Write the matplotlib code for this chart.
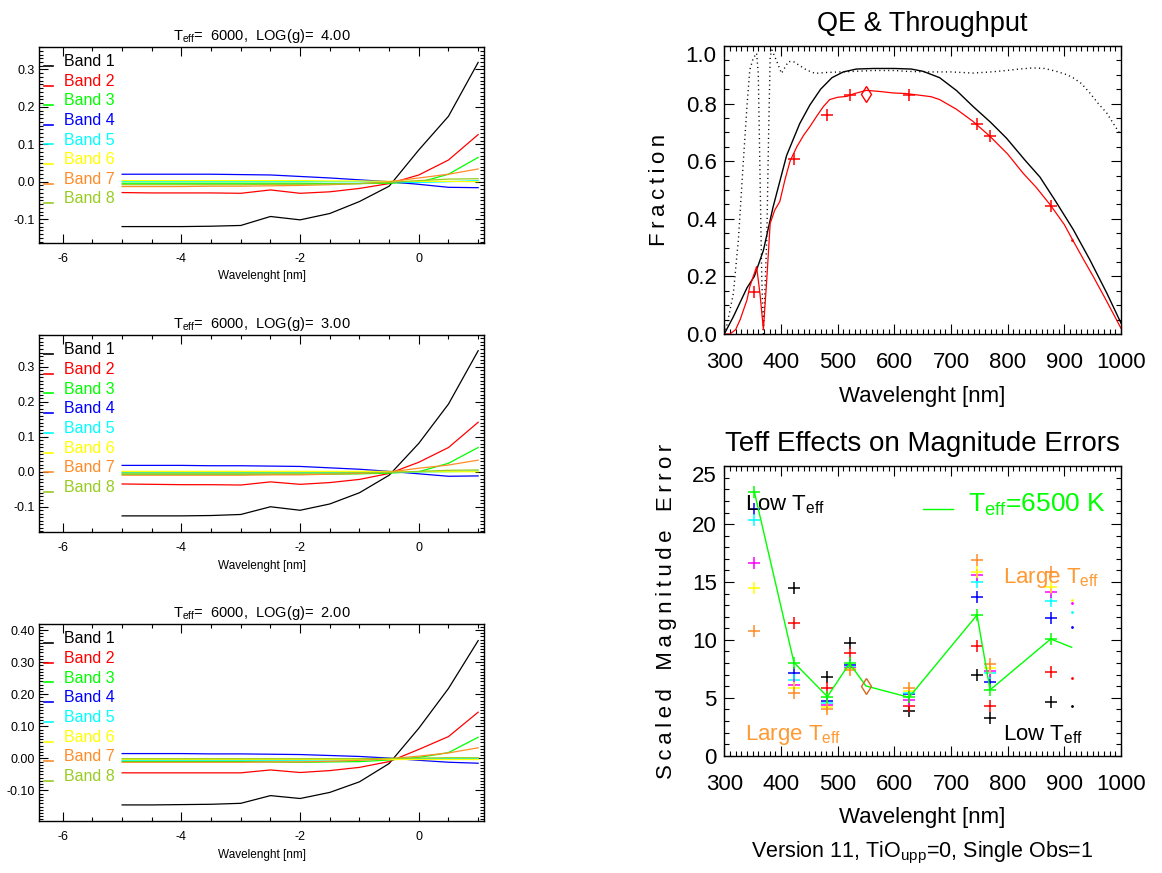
import numpy as np
import matplotlib
matplotlib.use('Agg')
import matplotlib.pyplot as plt
from matplotlib.ticker import MultipleLocator, FormatStrFormatter

plt.rcParams['font.family'] = ['Liberation Sans Narrow', 'Liberation Sans', 'DejaVu Sans']
plt.rcParams['mathtext.fontset'] = 'custom'
plt.rcParams['mathtext.rm'] = 'Liberation Sans'
plt.rcParams['mathtext.it'] = 'Liberation Sans'
plt.rcParams['axes.unicode_minus'] = False

# ---------------- data: left panels (band offsets vs wavelength shift) ----------------
band_names = ['Band 1', 'Band 2', 'Band 3', 'Band 4', 'Band 5', 'Band 6', 'Band 7', 'Band 8']
band_colors = ['black', 'red', '#00ff00', 'blue', 'cyan', 'yellow', '#ff8c28', '#99cc22']
dlam = [-5, -4.5, -4, -3.5, -3, -2.5, -2, -1.5, -1, -0.5, 0, 0.5, 1]

logg_values = [4.0, 3.0, 2.0]
teff_left = 6000

g40 = [
    [-0.120, -0.120, -0.120, -0.119, -0.117, -0.093, -0.102, -0.085, -0.053, -0.012, 0.085, 0.175, 0.319],
    [-0.029, -0.030, -0.030, -0.030, -0.031, -0.022, -0.031, -0.027, -0.018, -0.005, 0.018, 0.058, 0.126],
    [-0.004, -0.004, -0.004, -0.004, -0.004, -0.004, -0.004, -0.005, -0.005, -0.004, -0.002, 0.020, 0.065],
    [0.020, 0.020, 0.020, 0.020, 0.019, 0.018, 0.014, 0.010, 0.005, 0.000, -0.007, -0.015, -0.016],
    [0.001, 0.001, 0.001, 0.001, 0.001, 0.001, 0.001, 0.000, 0.000, 0.000, -0.002, 0.000, 0.003],
    [0.003, 0.003, 0.003, 0.003, 0.003, 0.003, 0.003, 0.002, 0.002, 0.001, 0.001, 0.001, 0.000],
    [-0.013, -0.013, -0.013, -0.012, -0.012, -0.011, -0.010, -0.008, -0.005, 0.000, 0.010, 0.020, 0.034],
    [-0.008, -0.008, -0.008, -0.008, -0.008, -0.007, -0.007, -0.006, -0.005, -0.002, 0.003, 0.007, 0.008],
]
g30 = [
    [-0.126, -0.126, -0.126, -0.125, -0.122, -0.100, -0.110, -0.092, -0.060, -0.010, 0.081, 0.193, 0.345],
    [-0.035, -0.036, -0.037, -0.037, -0.038, -0.029, -0.036, -0.031, -0.022, -0.005, 0.027, 0.069, 0.141],
    [-0.007, -0.007, -0.007, -0.007, -0.007, -0.007, -0.007, -0.007, -0.006, -0.004, 0.000, 0.024, 0.069],
    [0.018, 0.018, 0.018, 0.017, 0.017, 0.016, 0.015, 0.011, 0.007, 0.001, -0.006, -0.013, -0.012],
    [-0.002, -0.002, -0.002, -0.002, -0.002, -0.002, -0.002, -0.002, -0.002, -0.001, -0.001, 0.000, 0.002],
    [0.001, 0.001, 0.001, 0.001, 0.001, 0.001, 0.001, 0.001, 0.001, 0.001, 0.000, 0.000, 0.000],
    [-0.010, -0.010, -0.010, -0.010, -0.010, -0.009, -0.009, -0.007, -0.005, -0.001, 0.010, 0.019, 0.033],
    [-0.004, -0.004, -0.004, -0.004, -0.004, -0.004, -0.004, -0.004, -0.003, -0.002, 0.001, 0.004, 0.005],
]
g20 = [
    [-0.145, -0.145, -0.144, -0.143, -0.140, -0.116, -0.125, -0.106, -0.073, -0.016, 0.094, 0.218, 0.367],
    [-0.045, -0.045, -0.045, -0.045, -0.045, -0.036, -0.044, -0.038, -0.028, -0.010, 0.028, 0.068, 0.144],
    [-0.010, -0.010, -0.010, -0.010, -0.010, -0.011, -0.012, -0.011, -0.010, -0.005, 0.003, 0.018, 0.066],
    [0.015, 0.015, 0.015, 0.014, 0.014, 0.013, 0.012, 0.009, 0.006, 0.001, -0.006, -0.012, -0.015],
    [-0.006, -0.006, -0.006, -0.006, -0.006, -0.006, -0.006, -0.005, -0.004, -0.002, -0.001, 0.000, 0.000],
    [-0.003, -0.003, -0.003, -0.003, -0.003, -0.003, -0.003, -0.003, -0.003, -0.003, -0.003, -0.003, -0.003],
    [-0.012, -0.012, -0.012, -0.012, -0.012, -0.011, -0.011, -0.009, -0.006, -0.001, 0.007, 0.017, 0.033],
    [-0.001, -0.001, -0.001, -0.001, -0.001, -0.001, -0.001, -0.001, -0.001, 0.000, 0.001, 0.002, 0.002],
]
left_data = [g40, g30, g20]
left_ylims = [(-0.164, 0.36), (-0.172, 0.39), (-0.195, 0.419)]
left_yfmt = ['%.1f', '%.1f', '%.2f']

# ---------------- data: QE & throughput ----------------
qe_wl = [300, 316, 328, 340, 353, 369, 386, 410, 433, 451, 470, 490, 510, 533, 563,
         600, 630, 651, 680, 710, 739, 770, 798, 830, 857, 885, 916, 945, 975, 1000]
qe = [0.0, 0.06, 0.11, 0.16, 0.2, 0.29, 0.44, 0.62, 0.73, 0.795, 0.85, 0.89, 0.91, 0.92, 0.922,
      0.922, 0.92, 0.912, 0.89, 0.845, 0.79, 0.735, 0.68, 0.605, 0.545, 0.46, 0.362, 0.258, 0.142, 0.038]

thr_wl = [300, 310, 320, 328, 340, 345, 357, 363, 369, 375, 381, 389, 398, 407, 416, 428, 440, 451,
          463, 475, 486, 500, 516, 530, 551, 575, 598, 620, 645, 665, 680, 710, 739, 769, 800, 827,
          850, 875, 900, 916, 935, 951, 975, 1000]
thr = [0.0, 0.0, 0.015, 0.05, 0.118, 0.164, 0.234, 0.14, 0.016, 0.19, 0.384, 0.43, 0.46, 0.535, 0.60,
       0.65, 0.69, 0.72, 0.756, 0.79, 0.814, 0.822, 0.825, 0.835, 0.846, 0.842, 0.837, 0.835, 0.829,
       0.824, 0.814, 0.78, 0.738, 0.686, 0.625, 0.559, 0.51, 0.449, 0.38, 0.322, 0.255, 0.2, 0.113, 0.02]

filt_wl = [300, 304, 316, 325, 333, 340, 345, 351, 357, 360, 363, 366, 369, 375, 378, 381, 384, 392,
           401, 413, 422, 445, 460, 480, 504, 530, 563, 600, 622, 660, 700, 739, 770, 798, 820, 845,
           865, 886, 905, 916, 930, 945, 960, 975, 990, 1000]
filt = [0.0, 0.025, 0.14, 0.33, 0.58, 0.79, 0.917, 0.957, 0.975, 0.905, 0.56, 0.21, 0.0, 0.33, 0.67,
        0.963, 0.986, 0.95, 0.905, 0.946, 0.946, 0.917, 0.905, 0.908, 0.91, 0.912, 0.915, 0.915, 0.912,
        0.91, 0.91, 0.906, 0.91, 0.915, 0.92, 0.924, 0.922, 0.912, 0.9, 0.889, 0.87, 0.837, 0.8, 0.767,
        0.72, 0.69]

band_wl = [353, 423, 482, 521, 626, 746, 769, 876]
band_thr = [0.145, 0.608, 0.76, 0.83, 0.831, 0.73, 0.686, 0.446]
ref_wl, ref_thr, ref_err = 550, 0.835, 6.02
last_wl, last_thr = 913, 0.325

# ---------------- data: Teff effects on magnitude errors ----------------
nan = np.nan
err_colors = ['black', 'red', 'blue', 'cyan', 'magenta', 'yellow', '#ff8c28']
err_black = [nan, 14.46, 6.76, 9.76, 3.89, 7.0, 3.22, 4.66]
err_red = [nan, 11.43, 5.87, 8.9, 4.32, 9.47, 4.32, 7.19]
err_blue = [21.3, 7.13, 4.72, 7.83, 5.33, 13.73, 6.4, 11.93]
err_cyan = [20.35, 6.54, 4.52, 7.7, 5.45, 14.97, 7.1, 13.37]
err_magenta = [16.67, 6.1, 4.35, 7.55, 4.8, 15.6, 7.34, 14.1]
err_yellow = [14.46, 5.83, 4.23, 7.5, 5.6, 15.9, 7.54, 14.6]
err_orange = [10.79, 5.45, 4.0, 7.4, 5.82, 16.9, 7.9, 15.9]
err_green = [22.8, 8.04, 5.1, 7.97, 5.04, 12.15, 5.68, 10.08]
err_series = [err_black, err_red, err_blue, err_cyan, err_magenta, err_yellow, err_orange]

green_wl = [353, 423, 482, 521, 550, 626, 746, 769, 876, 913]
green_line = [22.8, 8.04, 5.1, 7.97, 6.02, 5.04, 12.15, 5.68, 10.08, 9.36]
# last band only drawn as dots
dot_last = [4.29, 6.68, 11.14, 12.44, 13.2, 13.45]
dot_colors = ['black', 'red', 'blue', 'cyan', 'magenta', 'yellow']

TS = '\u2009'  # thin space, to spread the axis titles like the IDL font


def idl_axes(ax, maj_len=6.5, min_len=3.2, lsize=9, pad=3):
    ax.tick_params(which='both', direction='in', top=True, right=True, width=0.8,
                   labelsize=lsize, pad=pad)
    ax.tick_params(which='major', length=maj_len)
    ax.tick_params(which='minor', length=min_len)
    for s in ax.spines.values():
        s.set_linewidth(1.0)


def nudge_top_label(ax):
    # IDL pushes the label of the top tick inside the frame
    locs = ax.yaxis.get_majorticklocs()
    ticks = ax.yaxis.get_major_ticks(len(locs))
    top = ax.get_ylim()[1]
    for loc, t in zip(locs, ticks):
        if abs(loc - top) < 1e-6:
            t.label1.set_verticalalignment('top')


fig = plt.figure(figsize=(11.62, 8.73), dpi=100)

# ---------------- left column ----------------
left_pos = [[0.0336, 0.7216, 0.383, 0.2245],
            [0.0336, 0.3906, 0.383, 0.2257],
            [0.0336, 0.0596, 0.383, 0.2257]]
for k in range(3):
    ax = fig.add_axes(left_pos[k])
    for i in range(8):
        ax.plot(dlam, left_data[k][i], color=band_colors[i], lw=0.9)
    ax.set_xlim(-6.4, 1.1)
    ax.set_ylim(*left_ylims[k])
    ax.xaxis.set_major_locator(MultipleLocator(2))
    ax.xaxis.set_minor_locator(MultipleLocator(0.5))
    ax.xaxis.set_major_formatter(FormatStrFormatter('%d'))
    ax.yaxis.set_major_locator(MultipleLocator(0.1))
    ax.yaxis.set_minor_locator(MultipleLocator(0.01))
    ax.yaxis.set_major_formatter(FormatStrFormatter(left_yfmt[k]))
    idl_axes(ax, maj_len=6.5, min_len=3.0, lsize=9, pad=3)
    ax.tick_params(axis='x', pad=7)
    ax.set_title(r'T$_{\rm eff}$=  %d,  LOG(g)=  %.2f' % (teff_left, logg_values[k]),
                 fontsize=10.5, pad=5)
    ax.set_xlabel('Wavelenght [nm]', fontsize=8.5)
    ax.xaxis.set_label_coords(0.5, -0.14)
    ax.xaxis.label.set_va('top')
    for i in range(8):
        y = 0.925 - 0.1 * i
        ax.plot([0.011, 0.031], [y - 0.022, y - 0.022], color=band_colors[i], lw=1.2,
                transform=ax.transAxes)
        ax.text(0.055, y, band_names[i], color=band_colors[i], fontsize=11.5, va='center',
                transform=ax.transAxes)

# ---------------- right top: QE & Throughput ----------------
ax1 = fig.add_axes([0.6233, 0.6174, 0.3414, 0.3299])
ax1.plot(filt_wl, filt, color='black', lw=1.0, linestyle=(0, (0.8, 2.4)))
ax1.plot(qe_wl, qe, color='black', lw=1.0)
ax1.plot(thr_wl, thr, color='red', lw=0.9)
ax1.plot(band_wl, band_thr, linestyle='none', marker='+', color='red', ms=9, mew=1.1)
ax1.plot([ref_wl], [ref_thr], linestyle='none', marker='d', mfc='none', mec='red', ms=8, mew=1.0)
ax1.plot([last_wl], [last_thr], linestyle='none', marker='.', color='red', ms=2)
ax1.set_xlim(300, 1000)
ax1.set_ylim(0, 1.0)
ax1.xaxis.set_major_locator(MultipleLocator(100))
ax1.xaxis.set_minor_locator(MultipleLocator(10))
ax1.yaxis.set_major_locator(MultipleLocator(0.2))
ax1.yaxis.set_minor_locator(MultipleLocator(0.05))
ax1.yaxis.set_major_formatter(FormatStrFormatter('%.1f'))
idl_axes(ax1, maj_len=7.2, min_len=3.6, lsize=16, pad=5.5)
ax1.tick_params(axis='x', pad=13)
ax1.set_title('QE & Throughput', fontsize=19.5, pad=11)
ax1.set_xlabel('Wavelenght [nm]', fontsize=16)
ax1.xaxis.set_label_coords(0.5, -0.18)
ax1.xaxis.label.set_va('top')
ax1.set_ylabel(TS.join('Fraction'), fontsize=16)
ax1.yaxis.set_label_coords(-0.137, 0.5)
nudge_top_label(ax1)

# ---------------- right bottom: Teff effects ----------------
ax2 = fig.add_axes([0.6233, 0.1344, 0.3414, 0.3315])
for col, vals in zip(err_colors, err_series):
    ax2.plot(band_wl, vals, linestyle='none', marker='+', color=col, ms=9, mew=1.1)
ax2.plot(green_wl, green_line, color='#00ff00', lw=1.0)
ax2.plot(band_wl, err_green, linestyle='none', marker='+', color='#00ff00', ms=9, mew=1.1)
ax2.plot([ref_wl], [ref_err], linestyle='none', marker='d', mfc='none', mec='#d2691e', ms=8, mew=1.0)
for col, v in zip(dot_colors, dot_last):
    ax2.plot([last_wl], [v], linestyle='none', marker='.', color=col, ms=2)
ax2.set_xlim(300, 1000)
ax2.set_ylim(0, 25)
ax2.xaxis.set_major_locator(MultipleLocator(100))
ax2.xaxis.set_minor_locator(MultipleLocator(10))
ax2.yaxis.set_major_locator(MultipleLocator(5))
ax2.yaxis.set_minor_locator(MultipleLocator(1))
idl_axes(ax2, maj_len=7.2, min_len=3.6, lsize=16, pad=5.5)
ax2.tick_params(axis='x', pad=13)
ax2.set_title('Teff Effects on Magnitude Errors', fontsize=20, pad=11)
ax2.set_xlabel('Wavelenght [nm]', fontsize=16)
ax2.xaxis.set_label_coords(0.5, -0.177)
ax2.xaxis.label.set_va('top')
ax2.set_ylabel('   '.join(TS.join(w) for w in ['Scaled', 'Magnitude', 'Error']), fontsize=16)
ax2.yaxis.set_label_coords(-0.119, 0.5)
nudge_top_label(ax2)

ax2.text(0.052, 0.849, r'Low T$_{\rm eff}$', color='black', fontsize=16, transform=ax2.transAxes)
ax2.plot([0.5, 0.576], [0.853, 0.853], color='#00ff00', lw=1.0, transform=ax2.transAxes)
ax2.text(0.614, 0.843, r'T$_{\rm eff}$=6500 K', color='#00ff00', fontsize=19, transform=ax2.transAxes)
ax2.text(0.052, 0.054, r'Large T$_{\rm eff}$', color='#ff9933', fontsize=16, transform=ax2.transAxes)
ax2.text(0.703, 0.598, r'Large T$_{\rm eff}$', color='#ff9933', fontsize=16, transform=ax2.transAxes)
ax2.text(0.703, 0.052, r'Low T$_{\rm eff}$', color='black', fontsize=16, transform=ax2.transAxes)

fig.text(0.7935, 0.0229, r'Version 11, TiO$_{\rm upp}$=0, Single Obs=1', fontsize=15.5,
         ha='center', va='center')

fig.savefig('out.png', dpi=100)
